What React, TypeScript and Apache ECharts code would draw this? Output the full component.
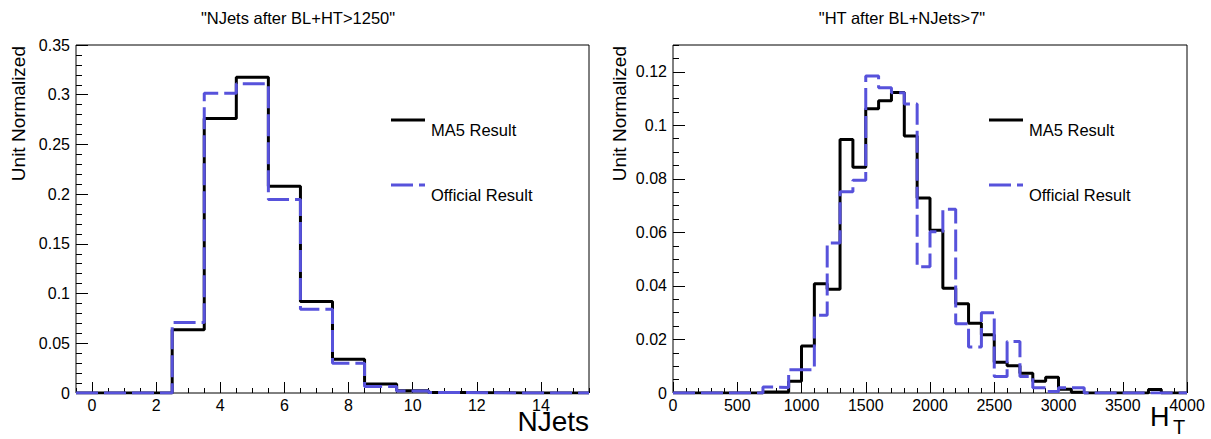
import React, { useEffect, useRef } from "react";
import * as echarts from "echarts";

// ---------- data ----------
const njetsBinLow = [-0.5, 0.5, 1.5, 2.5, 3.5, 4.5, 5.5, 6.5, 7.5, 8.5, 9.5, 10.5, 11.5, 12.5, 13.5, 14.5];
const njetsBinHighLast = 15.5;
const njetsMA5 = [0, 0, 0, 0.0635, 0.276, 0.3176, 0.208, 0.092, 0.034, 0.009, 0.0023, 0.0004, 0.0002, 0.0001, 0, 0];
const njetsOfficial = [0, 0, 0, 0.0708, 0.3015, 0.311, 0.1946, 0.0843, 0.03, 0.0066, 0.002, 0.0005, 0.0002, 0, 0, 0];

const htBinLow = [
  0, 100, 200, 300, 400, 500, 600, 700, 800, 900,
  1000, 1100, 1200, 1300, 1400, 1500, 1600, 1700, 1800, 1900,
  2000, 2100, 2200, 2300, 2400, 2500, 2600, 2700, 2800, 2900,
  3000, 3100, 3200, 3300, 3400, 3500, 3600, 3700, 3800, 3900,
];
const htBinHighLast = 4000;
const htMA5 = [
  0, 0, 0, 0, 0, 0, 0, 0.0004, 0.0004, 0.0044,
  0.0176, 0.0408, 0.0388, 0.0947, 0.0843, 0.1062, 0.1092, 0.1123, 0.096, 0.0728,
  0.0608, 0.0391, 0.0333, 0.0261, 0.0218, 0.0115, 0.0102, 0.0074, 0.0044, 0.0059,
  0.0014, 0.0003, 0, 0, 0, 0, 0, 0.0013, 0, 0,
];
const htOfficial = [
  0, 0, 0, 0, 0, 0, 0, 0.0022, 0.0021, 0.0087,
  0.0087, 0.029, 0.056, 0.0752, 0.0795, 0.1184, 0.114, 0.1122, 0.108, 0.0472,
  0.0602, 0.0686, 0.0259, 0.0172, 0.03, 0.0062, 0.0192, 0.0062, 0.002, 0.0006,
  0.002, 0.002, 0, 0, 0, 0, 0, 0, 0, 0,
];

const titles = ['"NJets after BL+HT>1250"', '"HT after BL+NJets>7"'];
const yTitle = "Unit Normalized";
const legendNames = ["MA5 Result", "Official Result"];

// ---------- helpers ----------
const FONT = "'Liberation Sans', Arial, Helvetica, sans-serif";
const BLUE = "#5752db";

function stepData(lows: number[], lastHigh: number, vals: number[]) {
  const d: number[][] = lows.map((x, i) => [x, vals[i]]);
  d.push([lastHigh, vals[vals.length - 1]]);
  return d;
}

const G0 = { left: 76, top: 45, width: 513, height: 348 };
const G1 = { left: 673, top: 45, width: 514, height: 348 };

const labelStyle = { color: "#000", fontSize: 16, fontFamily: FONT };
const plain = (v: number) => String(v);

function mainY(gridIndex: number, max: number, interval: number, showMax: boolean) {
  return {
    type: "value",
    gridIndex,
    position: "left",
    min: 0,
    max,
    interval,
    axisLine: { show: false, onZero: false },
    axisTick: { show: true, inside: true, length: 12, lineStyle: { color: "#000", width: 1 } },
    axisLabel: { ...labelStyle, margin: 6, showMaxLabel: showMax, formatter: plain },
    splitLine: { show: false },
  };
}
function minorY(gridIndex: number, max: number, interval: number) {
  return {
    type: "value",
    gridIndex,
    position: "left",
    min: 0,
    max,
    interval,
    axisLine: { show: false, onZero: false },
    axisTick: { show: true, inside: true, length: 6, lineStyle: { color: "#000", width: 1 } },
    axisLabel: { show: false },
    splitLine: { show: false },
  };
}

export default function App() {
  const ref = useRef<HTMLDivElement>(null);
  useEffect(() => {
    if (!ref.current) return;
    const chart = echarts.init(ref.current, null, { renderer: "svg" });
    const option: any = {
      animation: false,
      backgroundColor: "#fff",
      grid: [
        { ...G0, show: true, borderColor: "#000", borderWidth: 1, backgroundColor: "transparent", containLabel: false },
        { ...G1, show: true, borderColor: "#000", borderWidth: 1, backgroundColor: "transparent", containLabel: false },
      ],
      xAxis: [
        {
          type: "value",
          gridIndex: 0,
          position: "bottom",
          min: -0.5,
          max: 15.5,
          splitNumber: 8,
          minInterval: 2,
          maxInterval: 2,
          axisLine: { show: false, onZero: false },
          axisTick: { show: true, inside: true, length: 11, lineStyle: { color: "#000" } },
          axisLabel: { ...labelStyle, margin: 4, showMinLabel: false, showMaxLabel: false, formatter: plain },
          splitLine: { show: false },
        },
        {
          type: "value",
          gridIndex: 0,
          position: "bottom",
          min: -0.5,
          max: 15.5,
          interval: 0.5,
          axisLine: { show: false, onZero: false },
          axisTick: { show: true, inside: true, length: 5, lineStyle: { color: "#000" } },
          axisLabel: { show: false },
          splitLine: { show: false },
        },
        {
          type: "value",
          gridIndex: 1,
          position: "bottom",
          min: 0,
          max: 4000,
          interval: 500,
          axisLine: { show: false, onZero: false },
          axisTick: { show: true, inside: true, length: 11, lineStyle: { color: "#000" } },
          axisLabel: { ...labelStyle, margin: 4, formatter: plain },
          splitLine: { show: false },
        },
        {
          type: "value",
          gridIndex: 1,
          position: "bottom",
          min: 0,
          max: 4000,
          interval: 100,
          axisLine: { show: false, onZero: false },
          axisTick: { show: true, inside: true, length: 5, lineStyle: { color: "#000" } },
          axisLabel: { show: false },
          splitLine: { show: false },
        },
      ],
      yAxis: [
        mainY(0, 0.35, 0.05, true),
        minorY(0, 0.35, 0.01),
        mainY(1, 0.13, 0.02, false),
        minorY(1, 0.13, 0.005),
      ],
      series: [
        {
          name: legendNames[0],
          type: "line",
          xAxisIndex: 0,
          yAxisIndex: 0,
          step: "end",
          symbol: "none",
          data: stepData(njetsBinLow, njetsBinHighLast, njetsMA5),
          lineStyle: { color: "#000", width: 3 },
          z: 3,
        },
        {
          name: legendNames[1],
          type: "line",
          xAxisIndex: 0,
          yAxisIndex: 0,
          step: "end",
          symbol: "none",
          data: stepData(njetsBinLow, njetsBinHighLast, njetsOfficial),
          lineStyle: { color: BLUE, width: 3, type: [22, 6], cap: "butt" },
          z: 4,
        },
        {
          name: legendNames[0],
          type: "line",
          xAxisIndex: 2,
          yAxisIndex: 2,
          step: "end",
          symbol: "none",
          data: stepData(htBinLow, htBinHighLast, htMA5),
          lineStyle: { color: "#000", width: 3 },
          z: 3,
        },
        {
          name: legendNames[1],
          type: "line",
          xAxisIndex: 2,
          yAxisIndex: 2,
          step: "end",
          symbol: "none",
          data: stepData(htBinLow, htBinHighLast, htOfficial),
          lineStyle: { color: BLUE, width: 3, type: [22, 6], cap: "butt" },
          z: 4,
        },
      ],
      graphic: [
        // titles
        { type: "text", x: 298, y: 18, style: { text: titles[0], font: `16.5px ${FONT}`, fill: "#000", align: "center", verticalAlign: "middle" } },
        { type: "text", x: 902, y: 18, style: { text: titles[1], font: `16.5px ${FONT}`, fill: "#000", align: "center", verticalAlign: "middle" } },
        // y titles
        { type: "text", x: 18, y: 46, rotation: Math.PI / 2, style: { text: yTitle, font: `19px ${FONT}`, fill: "#000", align: "right", verticalAlign: "middle" } },
        { type: "text", x: 619, y: 46, rotation: Math.PI / 2, style: { text: yTitle, font: `19px ${FONT}`, fill: "#000", align: "right", verticalAlign: "middle" } },
        // x titles
        { type: "text", x: 589, y: 421, style: { text: "NJets", font: `28px ${FONT}`, fill: "#000", align: "right", verticalAlign: "middle" } },
        { type: "text", x: 1150, y: 430, style: { text: "H", font: `27px ${FONT}`, fill: "#000", align: "left", verticalAlign: "bottom" } },
        { type: "text", x: 1173, y: 437, style: { text: "T", font: `20px ${FONT}`, fill: "#000", align: "left", verticalAlign: "bottom" } },
        // legends left
        { type: "line", shape: { x1: 391, y1: 120, x2: 425, y2: 120 }, style: { stroke: "#000", lineWidth: 3 } },
        { type: "text", x: 431, y: 130, style: { text: legendNames[0], font: `16.5px ${FONT}`, fill: "#000", align: "left", verticalAlign: "middle" } },
        { type: "line", shape: { x1: 391, y1: 185, x2: 425, y2: 185 }, style: { stroke: BLUE, lineWidth: 3, lineDash: [22, 6] } },
        { type: "text", x: 431, y: 195, style: { text: legendNames[1], font: `16.5px ${FONT}`, fill: "#000", align: "left", verticalAlign: "middle" } },
        // legends right
        { type: "line", shape: { x1: 989, y1: 120, x2: 1023, y2: 120 }, style: { stroke: "#000", lineWidth: 3 } },
        { type: "text", x: 1029, y: 130, style: { text: legendNames[0], font: `16.5px ${FONT}`, fill: "#000", align: "left", verticalAlign: "middle" } },
        { type: "line", shape: { x1: 989, y1: 185, x2: 1023, y2: 185 }, style: { stroke: BLUE, lineWidth: 3, lineDash: [22, 6] } },
        { type: "text", x: 1029, y: 195, style: { text: legendNames[1], font: `16.5px ${FONT}`, fill: "#000", align: "left", verticalAlign: "middle" } },
      ],
    };
    chart.setOption(option);
    return () => chart.dispose();
  }, []);
  return (
    <div
      ref={ref}
      style={{ position: "fixed", left: 0, top: 0, width: 1211, height: 439, background: "#fff" }}
    />
  );
}
